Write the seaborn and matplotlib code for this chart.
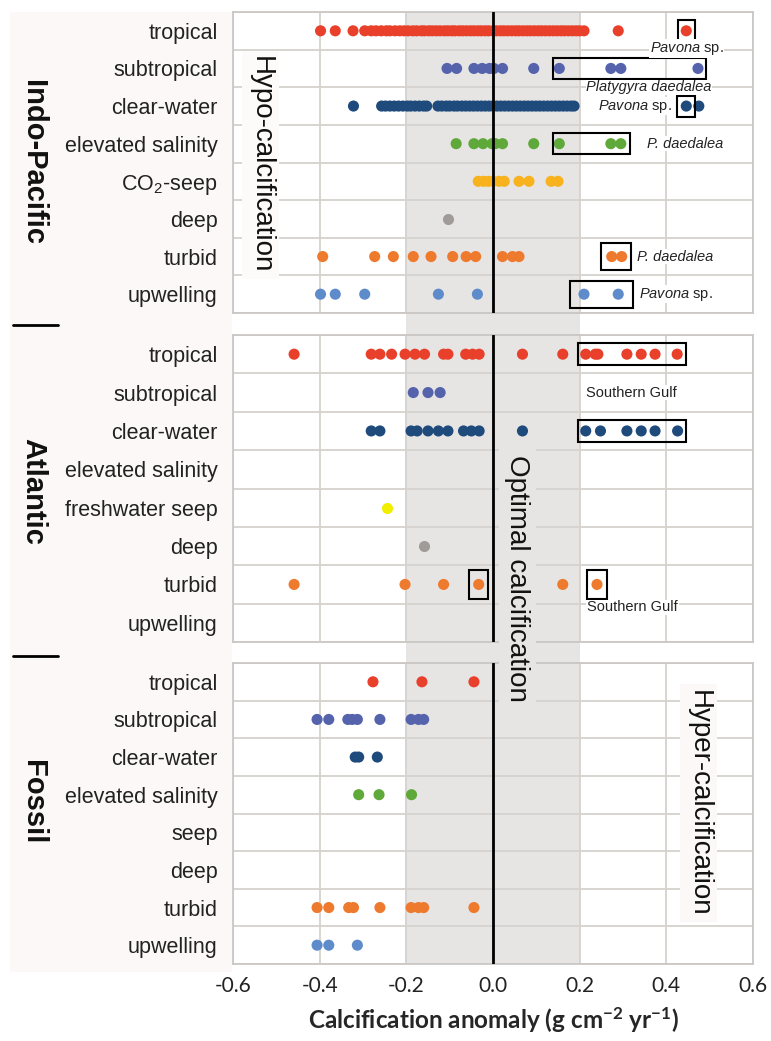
import matplotlib
matplotlib.use("Agg")
import matplotlib.pyplot as plt
import matplotlib.transforms as mtransforms
from matplotlib.patches import Rectangle
from matplotlib.lines import Line2D
import seaborn as sns
import pandas as pd

# ---------------- data ----------------
ip_categories = ["tropical", "subtropical", "clear-water", "elevated salinity",
                 "CO$_2$-seep", "deep", "turbid", "upwelling"]
atl_categories = ["tropical", "subtropical", "clear-water", "elevated salinity",
                  "freshwater seep", "deep", "turbid", "upwelling"]
fos_categories = ["tropical", "subtropical", "clear-water", "elevated salinity",
                  "seep", "deep", "turbid", "upwelling"]

ip_tropical = [-0.398, -0.364, -0.323, -0.296, -0.281, -0.27, -0.258, -0.246, -0.238,
               -0.226, -0.215, -0.205, -0.196, -0.185, -0.176, -0.165, -0.158, -0.148,
               -0.14, -0.131, -0.122, -0.112, -0.104, -0.095, -0.088, -0.078, -0.07,
               -0.061, -0.052, -0.044, -0.035, -0.027, -0.018, -0.01, 0.0, 0.008, 0.017,
               0.025, 0.034, 0.043, 0.052, 0.06, 0.069, 0.078, 0.086, 0.095, 0.104,
               0.112, 0.121, 0.13, 0.139, 0.148, 0.157, 0.165, 0.174, 0.183, 0.192,
               0.2, 0.21, 0.289, 0.446]
ip_subtropical = [-0.106, -0.084, -0.044, -0.025, -0.008, 0.002, 0.022, 0.094, 0.153,
                  0.272, 0.295, 0.473]
ip_clear_water = [-0.322, -0.257, -0.248, -0.238, -0.228, -0.218, -0.208, -0.198, -0.19,
                  -0.18, -0.17, -0.16, -0.153, -0.127, -0.118, -0.108, -0.1, -0.09,
                  -0.082, -0.072, -0.063, -0.054, -0.045, -0.036, -0.027, -0.018, -0.009,
                  0.0, 0.009, 0.018, 0.027, 0.036, 0.045, 0.054, 0.063, 0.072, 0.081,
                  0.09, 0.099, 0.108, 0.117, 0.126, 0.135, 0.144, 0.153, 0.162, 0.171,
                  0.18, 0.187, 0.446, 0.475]
ip_elevated_salinity = [-0.085, -0.044, -0.023, -0.002, 0.005, 0.022, 0.094, 0.153,
                        0.272, 0.295]
ip_co2_seep = [-0.034, -0.022, -0.011, 0.0, 0.014, 0.026, 0.06, 0.083, 0.134, 0.15]
ip_deep = [-0.105]
ip_turbid = [-0.393, -0.273, -0.23, -0.184, -0.143, -0.093, -0.062, -0.04, 0.022, 0.045,
             0.06, 0.274, 0.297]
ip_upwelling = [-0.398, -0.364, -0.296, -0.126, -0.036, 0.21, 0.289]

atl_tropical = [-0.459, -0.281, -0.261, -0.234, -0.203, -0.18, -0.158, -0.114, -0.104,
                -0.063, -0.047, -0.032, 0.068, 0.161, 0.214, 0.236, 0.242, 0.309, 0.342,
                0.374, 0.425]
atl_subtropical = [-0.184, -0.15, -0.122]
atl_clear_water = [-0.281, -0.261, -0.189, -0.175, -0.15, -0.126, -0.104, -0.068, -0.05,
                   -0.032, 0.068, 0.214, 0.248, 0.309, 0.342, 0.374, 0.426]
atl_elevated_salinity = []
atl_freshwater_seep = [-0.244]
atl_deep = [-0.16]
atl_turbid = [-0.459, -0.203, -0.114, -0.033, 0.161, 0.24]
atl_upwelling = []

fos_tropical = [-0.277, -0.164, -0.044]
fos_subtropical = [-0.406, -0.379, -0.335, -0.325, -0.313, -0.261, -0.189, -0.172, -0.16]
fos_clear_water = [-0.318, -0.31, -0.267]
fos_elevated_salinity = [-0.31, -0.263, -0.188]
fos_seep = []
fos_deep = []
fos_turbid = [-0.406, -0.379, -0.333, -0.322, -0.261, -0.189, -0.172, -0.16, -0.044]
fos_upwelling = [-0.406, -0.379, -0.313]

x_ticks = [-0.6, -0.4, -0.2, 0.0, 0.2, 0.4, 0.6]
x_tick_labels = ["-0.6", "-0.4", "-0.2", "0.0", "0.2", "0.4", "0.6"]
region_names = ["Indo-Pacific", "Atlantic", "Fossil"]

colors = {
    "tropical": "#e8402a", "subtropical": "#5563ad", "clear-water": "#1f4a7c",
    "elevated salinity": "#5fa83a", "CO$_2$-seep": "#f7b21e", "deep": "#a09b98",
    "turbid": "#ee7a2e", "upwelling": "#5e8ccb", "freshwater seep": "#f2ee00",
    "seep": "#999999",
}

# annotations: (panel, text, row, x, ha, style)
labels = [
    (0, r"$\it{Pavona}$ sp.", 0.47, 0.447, "center", "normal"),
    (0, "Platygyra daedalea", 1.5, 0.36, "center", "italic"),
    (0, r"$\it{Pavona}$ sp.", 2.0, 0.412, "right", "normal"),
    (0, "P. daedalea", 3.0, 0.355, "left", "italic"),
    (0, "P. daedalea", 6.0, 0.333, "left", "italic"),
    (0, r"$\it{Pavona}$ sp.", 7.0, 0.337, "left", "normal"),
    (1, "Southern Gulf", 1.0, 0.214, "left", "normal"),
    (1, "Southern Gulf", 6.6, 0.217, "left", "normal"),
]
# boxes: (panel, x0, x1, row, height in rows)
boxes = [
    (0, 0.426, 0.467, 0.0, 0.56),
    (0, 0.138, 0.492, 1.0, 0.56),
    (0, 0.425, 0.466, 2.0, 0.56),
    (0, 0.138, 0.316, 3.0, 0.56),
    (0, 0.249, 0.319, 6.0, 0.72),
    (0, 0.177, 0.324, 7.0, 0.72),
    (1, 0.195, 0.446, 0.0, 0.57),
    (1, 0.195, 0.446, 2.0, 0.57),
    (1, -0.056, -0.011, 6.0, 0.76),
    (1, 0.218, 0.263, 6.0, 0.76),
]

# ---------------- style ----------------
sns.set_style("white")
plt.rcParams["font.family"] = ["Liberation Sans", "DejaVu Sans"]
plt.rcParams["mathtext.fontset"] = "custom"
plt.rcParams["mathtext.rm"] = "Liberation Sans"
plt.rcParams["mathtext.it"] = "Liberation Sans:italic"
plt.rcParams["mathtext.bf"] = "Lato:bold"

W, H = 771, 1041
fig = plt.figure(figsize=(W / 100, H / 100), dpi=100)
fig.patch.set_facecolor("white")

def fy(px):
    return 1 - px / H

left, right = 233 / W, 753 / W
panel_px = [(12, 313), (335, 642), (663, 964)]
axes = []
for top, bot in panel_px:
    ax = fig.add_axes([left, fy(bot), right - left, (bot - top) / H])
    ax.set_facecolor("none")
    axes.append(ax)

grid_c = "#d6d2ce"
spine_c = "#cbc7c4"

panels = [
    (ip_categories, [ip_tropical, ip_subtropical, ip_clear_water, ip_elevated_salinity,
                     ip_co2_seep, ip_deep, ip_turbid, ip_upwelling]),
    (atl_categories, [atl_tropical, atl_subtropical, atl_clear_water, atl_elevated_salinity,
                      atl_freshwater_seep, atl_deep, atl_turbid, atl_upwelling]),
    (fos_categories, [fos_tropical, fos_subtropical, fos_clear_water, fos_elevated_salinity,
                      fos_seep, fos_deep, fos_turbid, fos_upwelling]),
]

for i, (ax, (cats, vals)) in enumerate(zip(axes, panels)):
    rows = []
    for c, v in zip(cats, vals):
        for x in v:
            rows.append({"category": c, "value": x})
    df = pd.DataFrame(rows, columns=["category", "value"])
    sns.stripplot(data=df, x="value", y="category", order=cats, hue="category",
                  hue_order=[c for c in cats if c in set(df["category"])],
                  palette=colors, jitter=False, size=8, linewidth=0,
                  legend=False, ax=ax, zorder=3)
    ax.set_xlim(-0.6, 0.6)
    ax.set_ylim(7.5, -0.5)
    ax.set_xlabel("")
    ax.set_ylabel("")
    ax.set_yticks(range(8))
    ax.set_yticklabels(cats, fontsize=15.5, color="#222222")
    ax.set_yticks([k + 0.5 for k in range(-1, 8)], minor=True)
    ax.tick_params(axis="y", which="major", length=0, pad=11)
    ax.tick_params(axis="y", which="minor", length=5, width=1.2, color=grid_c)
    ax.set_xticks(x_ticks)
    ax.set_axisbelow(True)
    ax.grid(True, axis="y", which="minor", color=grid_c, lw=1.3)
    ax.grid(True, axis="x", which="major", color=grid_c, lw=1.3)
    ax.grid(False, axis="y", which="major")
    for s in ax.spines.values():
        s.set_color(spine_c)
        s.set_linewidth(1.3)
        s.set_visible(True)
    ax.axvline(0, color="black", lw=2, zorder=4)
    if i < 2:
        ax.tick_params(axis="x", which="both", length=0, labelbottom=False)
    else:
        ax.tick_params(axis="x", length=0, pad=9)
        ax.set_xticklabels(x_tick_labels, fontsize=15, fontfamily="Lato", color="#222222")
        ax.set_xlabel(r"Calcification anomaly (g cm$^{\mathbf{-2}}$ yr$^{\mathbf{-1}}$)",
                      fontsize=17.5, fontfamily="Lato", fontweight="bold", labelpad=6)

for p, txt, row, x, ha, style in labels:
    axes[p].text(x, row, txt, ha=ha, va="center", fontsize=10.5, fontstyle=style,
                 color="#222222", zorder=6,
                 bbox=dict(facecolor="white", edgecolor="none", pad=0.5))
for p, x0, x1, row, h in boxes:
    axes[p].add_patch(Rectangle((x0, row - h / 2), x1 - x0, h, fill=False,
                                edgecolor="black", lw=1.5, zorder=5))

# shaded optimal band across all panels
band_tr = mtransforms.blended_transform_factory(axes[0].transData, fig.transFigure)
fig.add_artist(Rectangle((-0.2, fy(964)), 0.4, (964 - 12) / H, transform=band_tr,
                         facecolor="#e6e5e4", edgecolor="none", zorder=-1))
# pale background behind row labels
fig.add_artist(Rectangle((10 / W, fy(972)), 222 / W, 960 / H, transform=fig.transFigure,
                         facecolor="#fcf8f7", edgecolor="none", zorder=-2))

# region titles and separators
for name, yc in zip(region_names, [163, 491, 802]):
    fig.text(33 / W, fy(yc), name, rotation=270, ha="center", va="center",
             fontsize=21, fontweight="bold", color="#111111")
for yl in [325, 656]:
    fig.add_artist(Line2D([13 / W, 58 / W], [fy(yl), fy(yl)], transform=fig.transFigure,
                          color="black", lw=2))

# zone labels
fig.text(-0.537, fy(165), "Hypo-calcification", transform=band_tr, rotation=270,
         ha="center", va="center", fontsize=20, color="#111111", zorder=10,
         bbox=dict(facecolor="#fdfbfa", edgecolor="none", pad=4))
fig.text(0.056, fy(578), "Optimal calcification", transform=band_tr, rotation=270,
         ha="center", va="center", fontsize=20, color="#111111", zorder=10,
         bbox=dict(facecolor="#e6e5e4", edgecolor="none", pad=4))
fig.text(0.474, fy(803), "Hyper-calcification", transform=band_tr, rotation=270,
         ha="center", va="center", fontsize=20, color="#111111", zorder=10,
         bbox=dict(facecolor="#fcf8f7", edgecolor="none", pad=4))

fig.savefig("out.png", dpi=100)
